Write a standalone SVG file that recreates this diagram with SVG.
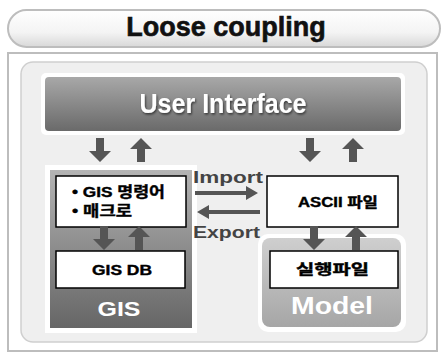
<svg xmlns="http://www.w3.org/2000/svg" width="442" height="355" viewBox="0 0 442 355">
<defs>
<linearGradient id="pill" x1="0" y1="0" x2="0" y2="1"><stop offset="0" stop-color="#ffffff"/><stop offset="0.6" stop-color="#f4f4f4"/><stop offset="1" stop-color="#d8d8d8"/></linearGradient>
<linearGradient id="ui" x1="0" y1="0" x2="0" y2="1"><stop offset="0" stop-color="#a8a8a8"/><stop offset="1" stop-color="#6a6a6a"/></linearGradient>
<linearGradient id="gis" x1="0" y1="0" x2="0" y2="1"><stop offset="0" stop-color="#b4b4b4"/><stop offset="0.55" stop-color="#888888"/><stop offset="1" stop-color="#666666"/></linearGradient>
<linearGradient id="model" x1="0" y1="0" x2="0" y2="1"><stop offset="0" stop-color="#cfcfcf"/><stop offset="1" stop-color="#a6a6a6"/></linearGradient>
<filter id="sh" x="-10%" y="-30%" width="130%" height="160%"><feDropShadow dx="1" dy="1.5" stdDeviation="0.8" flood-color="#000" flood-opacity="0.6"/></filter>
<path id="down" d="M-4,-12 H4 V1 H11 L0,12 L-11,1 H-4 Z"/>
<path id="up" d="M-4,12 H4 V-1 H11 L0,-12 L-11,-1 H-4 Z"/>
</defs>
<style>
.t{font-family:"Liberation Sans","Noto Sans CJK KR",sans-serif;font-weight:bold}
.box{fill:#fff;stroke:#000;stroke-width:1.5}
.arr{fill:#555}
.wt{fill:#fff}
.k{stroke:#000;stroke-width:0.4}
</style>
<g id="title">
<rect x="8" y="10" width="432" height="37" rx="18.5" fill="url(#pill)" stroke="#bdbdbd" stroke-width="2"/>
<text class="t" x="226" y="36" font-size="27" text-anchor="middle" fill="#111" stroke="#111" stroke-width="0.6">Loose coupling</text>
</g>
<g id="frame">
<rect x="8" y="53" width="429" height="298" fill="#fff" stroke="#bdbdbd" stroke-width="2"/>
<rect x="21" y="62" width="406" height="280" rx="12" fill="#efefef" stroke="#cfcfcf" stroke-width="1.5"/>
</g>
<g id="ui-node">
<rect x="41" y="73" width="364" height="62" rx="5" fill="#fff"/>
<rect x="45" y="77" width="356" height="54" rx="4" fill="url(#ui)"/>
<text class="t wt" x="223" y="113" font-size="28" text-anchor="middle" textLength="167" lengthAdjust="spacingAndGlyphs" filter="url(#sh)">User Interface</text>
</g>
<g id="gis-node">
<rect x="45" y="165" width="152" height="168" fill="#fff"/>
<rect x="50" y="170" width="142" height="158" fill="url(#gis)"/>
<text class="t wt" x="119" y="316" font-size="21" text-anchor="middle" textLength="43" lengthAdjust="spacingAndGlyphs">GIS</text>
</g>
<g id="cmd-node">
<rect class="box" x="56" y="176" width="130" height="51"/>
<text class="t k" x="72" y="197" font-size="15" textLength="93" lengthAdjust="spacingAndGlyphs">• GIS 명령어</text>
<text class="t k" x="72" y="216" font-size="15" textLength="60" lengthAdjust="spacingAndGlyphs">• 매크로</text>
</g>
<g id="gisdb-node">
<rect class="box" x="56" y="251" width="129" height="37"/>
<text class="t k" x="92" y="275" font-size="14" textLength="60" lengthAdjust="spacingAndGlyphs">GIS DB</text>
</g>
<g id="model-node">
<rect x="258" y="234" width="148" height="98" rx="10" fill="#fff"/>
<rect x="262" y="238" width="139" height="89" rx="8" fill="url(#model)"/>
<text class="t wt" x="332" y="314" font-size="23" text-anchor="middle" textLength="82" lengthAdjust="spacingAndGlyphs">Model</text>
</g>
<g id="ascii-node">
<rect class="box" x="267" y="176" width="131" height="51"/>
<text class="t k" x="298" y="207" font-size="14" textLength="80" lengthAdjust="spacingAndGlyphs">ASCII 파일</text>
</g>
<g id="exe-node">
<rect class="box" x="270" y="251" width="128" height="37"/>
<text class="t k" x="296" y="274" font-size="14" textLength="73" lengthAdjust="spacingAndGlyphs">실행파일</text>
</g>
<g id="connectors">
<use href="#down" class="arr" x="100" y="150"/>
<use href="#up" class="arr" x="141" y="150"/>
<use href="#down" class="arr" x="310" y="150"/>
<use href="#up" class="arr" x="353" y="150"/>
<use href="#down" class="arr" x="104" y="238"/>
<use href="#up" class="arr" x="139" y="238"/>
<use href="#down" class="arr" x="314" y="238"/>
<use href="#up" class="arr" x="356" y="238"/>
<path class="arr" d="M195,191 H246 V186 L258,193 L246,200 V195 H195 Z"/>
<path class="arr" d="M260,210 H209 V205 L197,212 L209,219 V214 H260 Z"/>
<text class="t" x="193" y="183" font-size="17" textLength="70" lengthAdjust="spacingAndGlyphs" fill="#444">Import</text>
<text class="t" x="193" y="238" font-size="17" textLength="67" lengthAdjust="spacingAndGlyphs" fill="#444">Export</text>
</g>
</svg>
